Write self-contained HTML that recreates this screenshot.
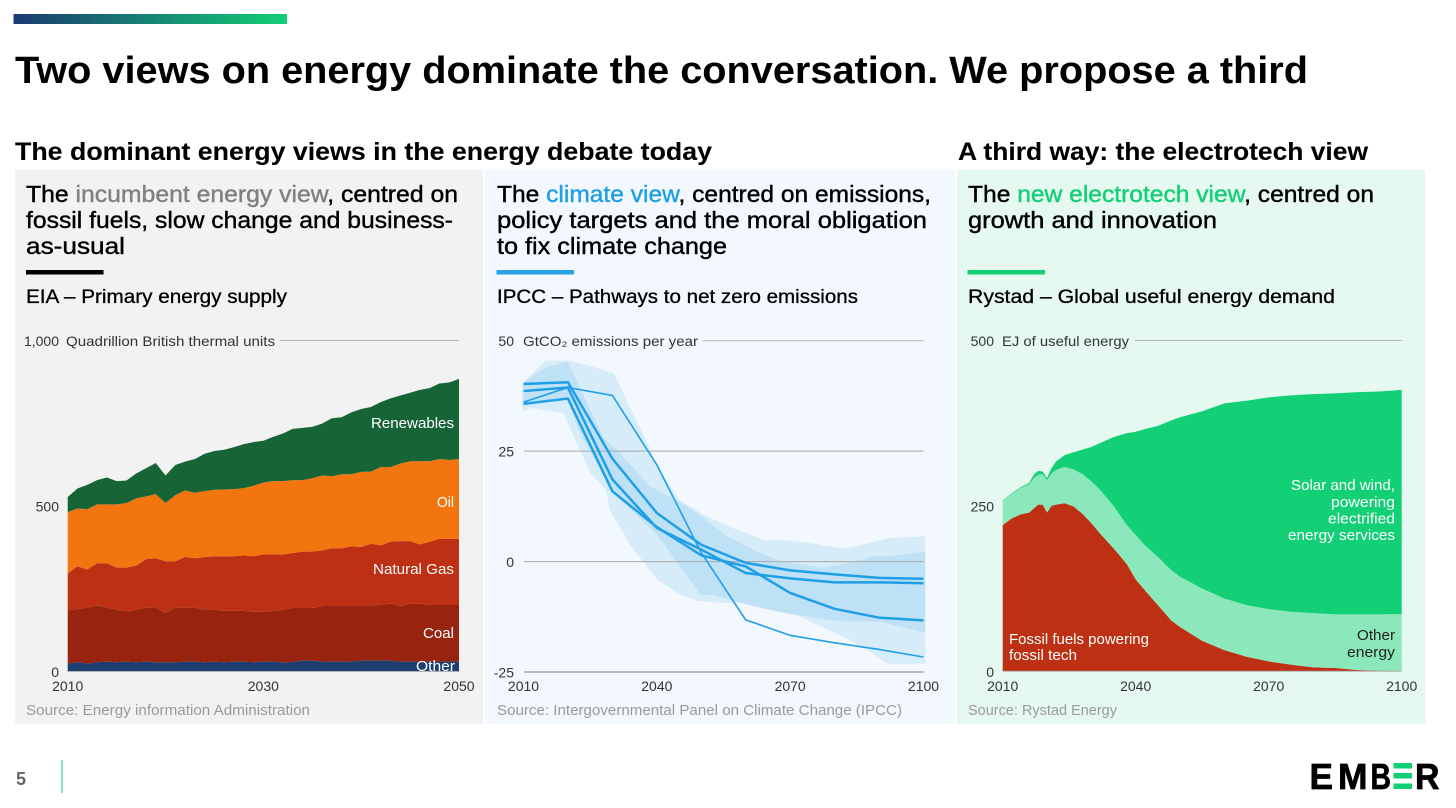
<!DOCTYPE html>
<html lang="en">
<head>
<meta charset="utf-8">
<title>Two views on energy dominate the conversation. We propose a third</title>
<style>
html,body{margin:0;padding:0;background:#fff;width:1456px;height:808px;overflow:hidden}
svg{display:block}
text{font-family:"Liberation Sans",sans-serif}
.title{font-size:38px;font-weight:700;fill:#000}
.section{font-size:25px;font-weight:700;fill:#000;stroke:#000;stroke-width:.1px}
.lead{font-size:23px;fill:#000;stroke:#000;stroke-width:.4px}
.sub{font-size:19px;fill:#000;stroke:#000;stroke-width:.3px}
.unit{font-size:14px;fill:#333}
.tick{font-size:14px;fill:#333}
.source{font-size:14.5px;fill:#9a9a9a}
.inlabel{font-size:14.5px;fill:#fff}
.logo{font-size:36px;font-weight:700;fill:#000;stroke:#000;stroke-width:.7px}
</style>
</head>
<body>
<svg xmlns="http://www.w3.org/2000/svg" width="1456" height="808" viewBox="0 0 1456 808">
  <defs>
    <linearGradient id="topbar" x1="0" x2="1" y1="0" y2="0">
      <stop offset="0" stop-color="#1b3a72"/>
      <stop offset="1" stop-color="#12cf75"/>
    </linearGradient>
  </defs>
  <rect x="13.5" y="14" width="273.5" height="10" fill="url(#topbar)"/>
  <text class="title" x="15" y="83" textLength="1293" lengthAdjust="spacingAndGlyphs">Two views on energy dominate the conversation. We propose a third</text>
  <text class="section" x="15" y="160" textLength="697" lengthAdjust="spacingAndGlyphs">The dominant energy views in the energy debate today</text>
  <text class="section" x="958" y="160" textLength="410" lengthAdjust="spacingAndGlyphs">A third way: the electrotech view</text>

  <rect x="15" y="170" width="468" height="554" fill="#f2f2f2"/>
  <rect x="485.5" y="170" width="469" height="554" fill="#f2f8fe"/>
  <rect x="957" y="170" width="468.5" height="554" fill="#e6f9f1"/>

  <text class="lead" x="26" y="202" textLength="432" lengthAdjust="spacingAndGlyphs">The <tspan style="fill:#808080;stroke:#808080">incumbent energy view</tspan>, centred on</text>
  <text class="lead" x="26" y="228" textLength="427" lengthAdjust="spacingAndGlyphs">fossil fuels, slow change and business-</text>
  <text class="lead" x="26" y="254" textLength="99" lengthAdjust="spacingAndGlyphs">as-usual</text>
  <rect x="26" y="270" width="77.5" height="4.5" fill="#000"/>
  <text class="sub" x="26" y="303" textLength="261" lengthAdjust="spacingAndGlyphs">EIA – Primary energy supply</text>

  <text class="lead" x="497" y="202" textLength="434" lengthAdjust="spacingAndGlyphs">The <tspan style="fill:#1f9fe6;stroke:#1f9fe6">climate view</tspan>, centred on emissions,</text>
  <text class="lead" x="497" y="228" textLength="430" lengthAdjust="spacingAndGlyphs">policy targets and the moral obligation</text>
  <text class="lead" x="497" y="254" textLength="230" lengthAdjust="spacingAndGlyphs">to fix climate change</text>
  <rect x="496.5" y="270" width="77.5" height="4.5" fill="#2aa3e6"/>
  <text class="sub" x="497" y="303" textLength="361" lengthAdjust="spacingAndGlyphs">IPCC – Pathways to net zero emissions</text>

  <text class="lead" x="968" y="202" textLength="406" lengthAdjust="spacingAndGlyphs">The <tspan style="fill:#12cf75;stroke:#12cf75">new electrotech view</tspan>, centred on</text>
  <text class="lead" x="968" y="228" textLength="249" lengthAdjust="spacingAndGlyphs">growth and innovation</text>
  <rect x="967.5" y="270" width="77.5" height="4.5" fill="#12cf75"/>
  <text class="sub" x="968" y="303" textLength="367" lengthAdjust="spacingAndGlyphs">Rystad – Global useful energy demand</text>

  <g id="eia-chart"></g>
  <g id="ipcc-chart"></g>
  <g id="rystad-chart"></g>

  <text class="unit" x="66" y="346" textLength="209" lengthAdjust="spacingAndGlyphs">Quadrillion British thermal units</text>
  <text class="unit" x="523" y="346" textLength="175" lengthAdjust="spacingAndGlyphs">GtCO₂ emissions per year</text>
  <text class="unit" x="1002" y="346" textLength="127" lengthAdjust="spacingAndGlyphs">EJ of useful energy</text>

  <text class="inlabel" x="371" y="428" textLength="83" lengthAdjust="spacingAndGlyphs">Renewables</text>
  <text class="inlabel" x="437" y="507" textLength="17" lengthAdjust="spacingAndGlyphs">Oil</text>
  <text class="inlabel" x="373" y="574" textLength="81" lengthAdjust="spacingAndGlyphs">Natural Gas</text>
  <text class="inlabel" x="423" y="638" textLength="31" lengthAdjust="spacingAndGlyphs">Coal</text>
  <text class="inlabel" x="416" y="671" textLength="39" lengthAdjust="spacingAndGlyphs">Other</text>

  <text class="inlabel" x="1291" y="490" textLength="104" lengthAdjust="spacingAndGlyphs">Solar and wind,</text>
  <text class="inlabel" x="1331" y="507" textLength="64" lengthAdjust="spacingAndGlyphs">powering</text>
  <text class="inlabel" x="1328" y="523.5" textLength="67" lengthAdjust="spacingAndGlyphs">electrified</text>
  <text class="inlabel" x="1288" y="540" textLength="107" lengthAdjust="spacingAndGlyphs">energy services</text>
  <text class="inlabel" x="1009" y="644" textLength="140" lengthAdjust="spacingAndGlyphs">Fossil fuels powering</text>
  <text class="inlabel" x="1009" y="660" textLength="68" lengthAdjust="spacingAndGlyphs">fossil tech</text>
  <text class="inlabel" x="1357" y="640" textLength="38" lengthAdjust="spacingAndGlyphs" style="fill:#222">Other</text>
  <text class="inlabel" x="1347" y="657" textLength="48" lengthAdjust="spacingAndGlyphs" style="fill:#222">energy</text>

  <text class="source" x="26" y="715" textLength="284" lengthAdjust="spacingAndGlyphs">Source: Energy information Administration</text>
  <text class="source" x="497" y="715" textLength="405" lengthAdjust="spacingAndGlyphs">Source: Intergovernmental Panel on Climate Change (IPCC)</text>
  <text class="source" x="968" y="715" textLength="149" lengthAdjust="spacingAndGlyphs">Source: Rystad Energy</text>

  <text x="16" y="785" font-size="18" font-weight="700" fill="#666">5</text>
  <rect x="61.5" y="760" width="1" height="33" fill="#12cf75"/>

  <g>
    <text class="logo" x="1309.5" y="789" textLength="23.5" lengthAdjust="spacingAndGlyphs">E</text>
    <text class="logo" x="1338" y="789" textLength="29.5" lengthAdjust="spacingAndGlyphs">M</text>
    <text class="logo" x="1370.5" y="789" textLength="20.5" lengthAdjust="spacingAndGlyphs">B</text>
    <rect x="1393.5" y="763" width="18.5" height="5.5" fill="#12cf75"/>
    <rect x="1393.5" y="773" width="18.5" height="5.5" fill="#12cf75"/>
    <rect x="1393.5" y="783.5" width="18.5" height="5.5" fill="#12cf75"/>
    <text class="logo" x="1415" y="789" textLength="24.5" lengthAdjust="spacingAndGlyphs">R</text>
  </g>
</svg>
<script>
/* ---------- EIA: primary energy supply (quadrillion Btu) ---------- */
const eiaYears = [2010,2011,2012,2013,2014,2015,2016,2017,2018,2019,2020,2021,2022,2023,2024,2025,2026,2027,2028,2029,2030,2031,2032,2033,2034,2035,2036,2037,2038,2039,2040,2041,2042,2043,2044,2045,2046,2047,2048,2049,2050];
const eiaOther = [24,28,24,28,30,28,30,28,30,28,28,28,30,30,28,30,28,30,30,28,30,30,27,29,33,33,30,30,30,30,33,33,33,33,30,30,30,30,30,30,30];
const eiaCoal = [161,161,169,171,163,159,151,159,163,165,149,165,163,163,159,157,155,153,153,152,150,153,160,163,159,159,168,168,168,168,165,165,169,172,168,175,175,171,171,171,171];
const eiaGas = [111,129,115,128,134,127,133,133,146,149,156,140,153,149,159,161,165,165,168,168,174,171,167,166,170,170,168,174,174,180,178,188,179,187,196,189,179,191,200,200,200];
const eiaOil = [185,175,182,178,178,191,195,203,190,194,176,200,201,198,199,201,202,203,203,213,217,221,221,220,216,222,226,218,224,218,227,218,237,226,234,241,251,243,241,238,241];
const eiaRenewables = [46,60,74,73,81,70,68,75,85,94,83,91,87,102,113,117,120,127,133,132,126,134,144,155,158,155,157,175,172,187,190,195,196,207,206,207,216,221,228,234,242];
const eiaXTicks = [2010,2030,2050];
const eiaYTicks = [0,500,1000];
const eiaYTickLabels = ['0','500','1,000'];

/* ---------- IPCC: net emissions (GtCO2 per year) ---------- */
const ipccYears = [2010,2020,2030,2040,2050,2060,2070,2080,2090,2100];
const ipccPathwayA = [40.2,40.6,23.3,11.0,3.8,-0.3,-2.0,-2.9,-3.7,-3.9];
const ipccPathwayB = [38.6,39.4,18.6,7.6,2.7,-2.6,-3.8,-4.7,-4.7,-4.9];
const ipccPathwayC = [35.7,36.9,15.9,7.8,1.4,-1.1,-7.1,-10.7,-12.7,-13.3];
const ipccPathwayD = [36.1,39.4,37.6,21.9,2.0,-13.2,-16.7,-18.4,-19.9,-21.6];
const outerUpperYears = [2009.7,2015,2020,2025,2030.4,2034,2038,2040,2045,2050.5,2056,2064.3,2069,2074,2082,2087,2092.5,2100.4];
const outerUpperValues = [40.4,45.5,45.5,44.3,42.6,34.8,26.5,21.6,14.0,10.6,8.0,4.8,4.8,4.3,2.9,4.0,5.4,5.7];
const outerLowerYears = [2009.7,2012,2019,2025,2028.5,2029.5,2034,2040,2045,2049.3,2053.5,2058.7,2064.7,2072,2082,2086.5,2092,2100.4];
const outerLowerValues = [34.0,34.8,33.6,20.1,16.3,11.4,3.8,-4.0,-7.4,-8.9,-9.3,-9.3,-10.8,-12.4,-17.0,-19.5,-23.1,-23.1];
const innerUpperYears = [2010,2015,2020,2022,2028,2031,2038.5,2045,2050.5,2055.8,2062.5,2067.7,2077.5,2083.5,2088.7,2092.5,2100.4];
const innerUpperValues = [40.4,44.0,45.2,40.8,28.0,25.3,17.0,13.6,9.9,5.75,2.3,0.1,-1.4,-0.3,1.2,1.2,2.2];
const innerLowerYears = [2010,2020,2022,2030,2040,2050,2053,2058.7,2064.7,2073,2081,2090,2100.4];
const innerLowerValues = [35.9,36.7,30.6,15.9,6.1,-7.6,-7.6,-9.3,-10.8,-12.3,-13.5,-13.6,-16.1];
const ipccXTicks = [2010,2040,2070,2100];
const ipccYTicks = [-25,0,25,50];
const ipccYTickLabels = ['-25','0','25','50'];

/* ---------- Rystad: global useful energy demand (EJ) ---------- */
const rystadYears = [2010,2012,2014,2016,2017,2018,2019,2020,2021,2022,2024,2026,2028,2030,2032,2035,2038,2040,2042,2045,2048,2050,2055,2060,2065,2070,2075,2080,2085,2090,2095,2100];
const rystadFossil = [221,231,237,240,246,252,252,240,250,252,254,249,238,224,208,186,162,139,123,100,77,67,46,32,22,15,10,6,5,2,1,0.5];
const rystadOther = [36,37,40,43,46,45,46,49,49,52,55,56,60,63,66,64,59,67,68,73,76,76,79,78,78,79,80,82,81,84,85,86];
const rystadSolarWind = [1,1,1,2,5,6,4,3,8,13,18,26,37,52,71,104,139,156,175,198,226,241,268,295,309,320,327,331,334,336,337,339];
const rystadXTicks = [2010,2040,2070,2100];
const rystadYTicks = [0,250,500];
const rystadYTickLabels = ['0','250','500'];

const SVG_NS = 'http://www.w3.org/2000/svg';

function linearScale(d0, d1, r0, r1) {
  return function (v) { return r0 + (v - d0) * (r1 - r0) / (d1 - d0); };
}

function svgEl(tag, parent) {
  const el = document.createElementNS(SVG_NS, tag);
  parent.appendChild(el);
  return el;
}

function linePath(xs, ys, xScale, yScale) {
  return xs.map(function (x, i) {
    return (i ? 'L' : 'M') + xScale(x).toFixed(2) + ' ' + yScale(ys[i]).toFixed(2);
  }).join('');
}

function drawStack(parent, years, layers, colors, names, xScale, yScale) {
  const base = years.map(function () { return 0; });
  layers.forEach(function (layer, k) {
    const lower = base.slice();
    const upper = lower.map(function (b, i) { return b + layer[i]; });
    const path = svgEl('path', parent);
    const top = linePath(years, upper, xScale, yScale);
    const bottom = years.slice().reverse().map(function (yr, i) {
      return 'L' + xScale(yr).toFixed(2) + ' ' + yScale(lower[lower.length - 1 - i]).toFixed(2);
    }).join('');
    path.setAttribute('d', top + bottom + 'Z');
    path.setAttribute('fill', colors[k]);
    
    
    upper.forEach(function (u, i) { base[i] = u; });
  });
}

function drawGridline(parent, x1, x2, y, color, name) {
  const line = svgEl('line', parent);
  line.setAttribute('x1', x1);
  line.setAttribute('x2', x2);
  line.setAttribute('y1', y);
  line.setAttribute('y2', y);
  line.setAttribute('stroke', color);
  line.setAttribute('stroke-width', '1');
  
  
}

function drawXTicks(parent, ticks, xScale, baseline, prefix) {
  ticks.forEach(function (tick) {
    const t = svgEl('text', parent);
    t.setAttribute('class', 'tick');
    t.setAttribute('x', xScale(tick));
    t.setAttribute('y', baseline);
    t.setAttribute('text-anchor', 'middle');
    
    
    t.textContent = tick;
  });
}

function drawYTicks(parent, ticks, labels, yScale, right, prefix) {
  ticks.forEach(function (tick, i) {
    const t = svgEl('text', parent);
    t.setAttribute('class', 'tick');
    t.setAttribute('x', right);
    t.setAttribute('y', yScale(tick) + 5.5);
    t.setAttribute('text-anchor', 'end');
    
    
    t.textContent = labels[i];
  });
}

function drawBand(parent, upYears, upValues, lowYears, lowValues, color, name, xScale, yScale) {
  const band = svgEl('path', parent);
  const top = linePath(upYears, upValues, xScale, yScale);
  const bottom = lowYears.slice().reverse().map(function (yr, i) {
    return 'L' + xScale(yr).toFixed(2) + ' ' + yScale(lowValues[lowValues.length - 1 - i]).toFixed(2);
  }).join('');
  band.setAttribute('d', top + bottom + 'Z');
  band.setAttribute('fill', color);
  
  
}

function drawPathway(parent, years, values, width, name, xScale, yScale) {
  const line = svgEl('path', parent);
  line.setAttribute('d', linePath(years, values, xScale, yScale));
  line.setAttribute('fill', 'none');
  line.setAttribute('stroke', '#1f9fe6');
  line.setAttribute('stroke-width', width);
  line.setAttribute('stroke-linejoin', 'round');
  
  
}

/* EIA chart */
(function () {
  const g = document.getElementById('eia-chart');
  const x = linearScale(2010, 2050, 67.7, 459);
  const y = linearScale(0, 1000, 671.5, 340.5);
  drawGridline(g, 280, 459, y(1000), '#b5b5b5', 'eia-gridline-top');
  drawStack(g, eiaYears,
    [eiaOther, eiaCoal, eiaGas, eiaOil, eiaRenewables],
    ['#1c3f70', '#98240f', '#bd3013', '#f2750f', '#176437'],
    ['other-area', 'coal-area', 'natural-gas-area', 'oil-area', 'renewables-area'],
    x, y);
  drawGridline(g, 67.7, 459, y(0), '#b0b0b0', 'eia-baseline');
  drawXTicks(g, eiaXTicks, x, 691, 'eia');
  drawYTicks(g, eiaYTicks, eiaYTickLabels, y, 59, 'eia');
})();

/* IPCC chart */
(function () {
  const g = document.getElementById('ipcc-chart');
  const x = linearScale(2010, 2100, 523.5, 923.5);
  const y = linearScale(-25, 50, 672, 340.7);
  drawBand(g, outerUpperYears, outerUpperValues, outerLowerYears, outerLowerValues, '#d6ecf9', 'outer-range-band', x, y);
  drawBand(g, innerUpperYears, innerUpperValues, innerLowerYears, innerLowerValues, '#bfe1f6', 'inner-range-band', x, y);
  drawGridline(g, 703, 923.5, y(50), '#b5b5b5', 'ipcc-gridline-50');
  drawGridline(g, 524, 923.5, y(25), '#a8a8a8', 'ipcc-gridline-25');
  drawGridline(g, 524, 923.5, y(0), '#a8a8a8', 'ipcc-gridline-0');
  drawGridline(g, 524, 923.5, y(-25), '#808080', 'ipcc-gridline-minus-25');
  drawPathway(g, ipccYears, ipccPathwayD, 1.6, 'pathway-rapid-removal', x, y);
  drawPathway(g, ipccYears, ipccPathwayA, 2.5, 'pathway-a', x, y);
  drawPathway(g, ipccYears, ipccPathwayB, 2.5, 'pathway-b', x, y);
  drawPathway(g, ipccYears, ipccPathwayC, 2.5, 'pathway-c', x, y);
  drawXTicks(g, ipccXTicks, x, 691, 'ipcc');
  drawYTicks(g, ipccYTicks, ipccYTickLabels, y, 514, 'ipcc');
})();

/* Rystad chart */
(function () {
  const g = document.getElementById('rystad-chart');
  const x = linearScale(2010, 2100, 1002.7, 1401.7);
  const y = linearScale(0, 500, 671.3, 340.5);
  drawGridline(g, 1135, 1401.7, y(500), '#b5b5b5', 'rystad-gridline-top');
  drawStack(g, rystadYears,
    [rystadFossil, rystadOther, rystadSolarWind],
    ['#bd3013', '#8ae8ba', '#13cf75'],
    ['fossil-fuels-area', 'other-energy-area', 'solar-wind-area'],
    x, y);
  drawGridline(g, 1002.7, 1401.7, y(0), '#b0b0b0', 'rystad-baseline');
  drawXTicks(g, rystadXTicks, x, 691, 'rystad');
  drawYTicks(g, rystadYTicks, rystadYTickLabels, y, 994, 'rystad');
})();
</script>
</body>
</html>
